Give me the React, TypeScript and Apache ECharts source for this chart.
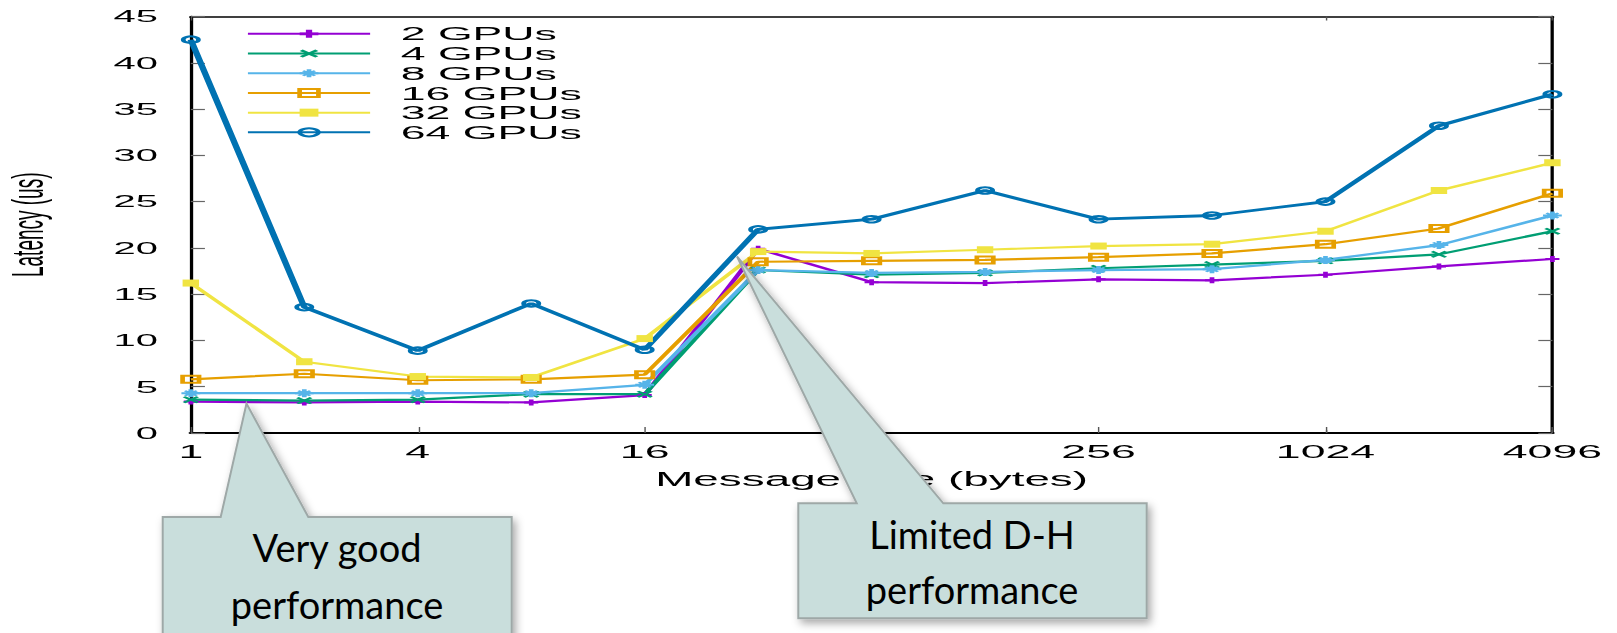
import { useEffect, useRef } from "react";
import * as echarts from "echarts";

// Message sizes (bytes) on a log2 axis
const messageSizes = [1, 2, 4, 8, 16, 32, 64, 128, 256, 512, 1024, 2048, 4096];

// Latency in microseconds per GPU count
const gpus2 = [3.4, 3.3, 3.4, 3.3, 4.1, 19.9, 16.3, 16.2, 16.6, 16.5, 17.1, 18.0, 18.8];
const gpus4 = [3.6, 3.5, 3.6, 4.2, 4.2, 17.6, 17.1, 17.3, 17.8, 18.2, 18.6, 19.3, 21.8];
const gpus8 = [4.3, 4.3, 4.3, 4.3, 5.2, 17.6, 17.3, 17.4, 17.6, 17.7, 18.7, 20.3, 23.5];
const gpus16 = [5.8, 6.4, 5.7, 5.8, 6.3, 18.5, 18.6, 18.7, 19.0, 19.4, 20.4, 22.1, 25.9];
const gpus32 = [16.2, 7.7, 6.1, 6.0, 10.2, 19.6, 19.4, 19.8, 20.2, 20.4, 21.8, 26.2, 29.2];
const gpus64 = [42.5, 13.6, 8.9, 14.0, 9.0, 22.0, 23.1, 26.2, 23.1, 23.5, 25.0, 33.2, 36.6];

const seriesNames = ["2 GPUs", "4 GPUs", "8 GPUs", "16 GPUs", "32 GPUs", "64 GPUs"];
const seriesValues = [gpus2, gpus4, gpus8, gpus16, gpus32, gpus64];

const yMin = 0;
const yMax = 45;
const yStep = 5;
const xTitle = "Message size (bytes)";
const yTitle = "Latency (us)";

const noteGood = ["Very good", "performance"];
const noteLimited = ["Limited D-H", "performance"];

// Layout (the plot is drawn narrow and widened horizontally)
const PAGE_W = 1617;
const PAGE_H = 633;
const STRETCH = 2.35;
const PLOT_W = Math.round(PAGE_W / STRETCH);
const AXIS_FONT = "'Liberation Sans', Arial, Helvetica, sans-serif";

const PLUS = "path://M-1,-3H1V-1H3V1H1V3H-1V1H-3V-1H-1Z";
const CROSS = "path://M-3,-2L-2,-3L0,-1L2,-3L3,-2L1,0L3,2L2,3L0,1L-2,3L-3,2L-1,0Z";
const STAR =
  "path://M-1,-4H1V-1H4V1H1V4H-1V1H-4V-1H-1Z M-3,-2L-2,-3L0,-1L2,-3L3,-2L1,0L3,2L2,3L0,1L-2,3L-3,2L-1,0Z";

const seriesStyles = [
  { color: "#9400d3", symbol: PLUS, size: 6, hollow: false, width: 2.2 },
  { color: "#009e73", symbol: CROSS, size: 7, hollow: false, width: 2.2 },
  { color: "#56b4e9", symbol: STAR, size: 8, hollow: false, width: 2.2 },
  { color: "#e69f00", symbol: "rect", size: 7, hollow: true, width: 2.2 },
  { color: "#f0e442", symbol: "rect", size: 7, hollow: false, width: 2.2 },
  { color: "#0072b2", symbol: "circle", size: 6.5, hollow: true, width: 2.8 },
];

function buildPlotOption() {
  const series = seriesNames.map((name, k) => {
    const st = seriesStyles[k];
    return {
      name,
      type: "line",
      xAxisIndex: 0,
      yAxisIndex: 0,
      data: messageSizes.map((s, i) => [s, seriesValues[k][i]]),
      symbol: st.symbol,
      symbolSize: st.size,
      showSymbol: true,
      color: st.color,
      lineStyle: { color: st.color, width: st.width },
      itemStyle: st.hollow
        ? { color: "rgba(0,0,0,0)", borderColor: st.color, borderWidth: 2 }
        : { color: st.color, borderWidth: 0 },
      emphasis: { disabled: true },
    };
  });

  const frameX = {
    type: "log",
    logBase: 2,
    min: 1,
    max: 4096,
    splitNumber: 12,
    splitLine: { show: false },
    axisLabel: { show: false },
  };
  const frameY = {
    type: "value",
    min: yMin,
    max: yMax,
    interval: yStep,
    splitLine: { show: false },
    axisLine: { show: true, lineStyle: { color: "#000", width: 1.4 } },
    axisTick: { show: true, inside: true, length: 6, lineStyle: { color: "#666", width: 1.2 } },
  };

  return {
    animation: false,
    grid: {
      left: 81.2,
      right: PLOT_W - 660.6,
      top: 16.5,
      bottom: 200,
      containLabel: false,
      outerBoundsMode: "none",
    },
    legend: {
      orient: "vertical",
      left: 104.5,
      top: 24,
      padding: 0,
      itemWidth: 52,
      itemHeight: 10,
      itemGap: 0,
      selectedMode: false,
      data: seriesNames,
      formatter: (name: string) => "{gap|}" + name,
      textStyle: {
        fontSize: 19,
        lineHeight: 19.7,
        fontFamily: AXIS_FONT,
        color: "#000",
        rich: { gap: { width: 8 } },
      },
    },
    xAxis: [
      {
        ...frameX,
        position: "bottom",
        axisLine: { lineStyle: { color: "#000", width: 2 } },
        axisTick: { inside: true, length: 3, lineStyle: { color: "#555", width: 0.6 } },
        name: xTitle,
        nameLocation: "middle",
        nameGap: 36,
        nameTextStyle: { fontSize: 19.5, color: "#000", fontFamily: AXIS_FONT },
      },
      {
        type: "log",
        logBase: 4,
        min: 1,
        max: 4096,
        splitNumber: 6,
        position: "bottom",
        splitLine: { show: false },
        axisLine: { show: false },
        axisTick: { inside: true, length: 6, lineStyle: { color: "#555", width: 0.6 } },
        axisLabel: {
          fontSize: 19,
          color: "#000",
          fontFamily: AXIS_FONT,
          margin: 9,
          formatter: (v: number) => String(Math.round(v)),
        },
      },
      {
        ...frameX,
        position: "top",
        axisLine: { lineStyle: { color: "#000", width: 1.7 } },
        axisTick: { inside: true, length: 4, lineStyle: { color: "#555", width: 0.6 } },
      },
    ],
    yAxis: [
      {
        ...frameY,
        position: "left",
        axisLabel: { fontSize: 17, color: "#000", fontFamily: AXIS_FONT, margin: 14 },
        name: yTitle,
        nameLocation: "middle",
        nameGap: 60,
        nameTextStyle: { fontSize: 19, color: "#000", fontFamily: AXIS_FONT },
      },
      {
        ...frameY,
        position: "right",
        axisLabel: { show: false },
      },
    ],
    series,
  };
}

const CALLOUT_FILL = "#c9dedc";
const CALLOUT_STROKE = "#9ea8a7";
const NOTE_FONT = "Lato, 'Open Sans', sans-serif";

function callout(points: number[][]) {
  return {
    type: "polygon",
    shape: { points },
    style: {
      fill: CALLOUT_FILL,
      stroke: CALLOUT_STROKE,
      lineWidth: 2,
      shadowBlur: 8,
      shadowOffsetX: 3,
      shadowOffsetY: 4,
      shadowColor: "rgba(0,0,0,0.35)",
    },
  };
}

function noteText(text: string, x: number, y: number) {
  return {
    type: "text",
    x,
    y,
    style: {
      text,
      fontSize: 38,
      fontFamily: NOTE_FONT,
      fill: "#000",
      align: "center",
      verticalAlign: "middle",
    },
  };
}

function buildNotesOption() {
  return {
    animation: false,
    graphic: [
      callout([
        [162.7, 517],
        [220.7, 517],
        [246.5, 403.5],
        [308.3, 517],
        [511.7, 517],
        [511.7, 660],
        [162.7, 660],
      ]),
      noteText(noteGood[0], 337, 547),
      noteText(noteGood[1], 337, 604),
      callout([
        [798.3, 503.3],
        [856.7, 503.3],
        [737, 256.5],
        [943.3, 503.3],
        [1146.7, 503.3],
        [1146.7, 618.3],
        [798.3, 618.3],
      ]),
      noteText(noteLimited[0], 972, 534),
      noteText(noteLimited[1], 972, 589),
    ],
  };
}

export default function App() {
  const plotRef = useRef<HTMLDivElement>(null);
  const notesRef = useRef<HTMLDivElement>(null);

  useEffect(() => {
    if (!plotRef.current || !notesRef.current) return;
    const plot = echarts.init(plotRef.current, null, { renderer: "svg" });
    plot.setOption(buildPlotOption() as any);
    const notes = echarts.init(notesRef.current, null, { renderer: "svg" });
    notes.setOption(buildNotesOption() as any);
    return () => {
      plot.dispose();
      notes.dispose();
    };
  }, []);

  return (
    <div
      style={{
        position: "absolute",
        left: 0,
        top: 0,
        width: PAGE_W,
        height: PAGE_H,
        overflow: "hidden",
        background: "#fff",
      }}
    >
      <div
        ref={plotRef}
        style={{
          position: "absolute",
          left: 0,
          top: 0,
          width: PLOT_W,
          height: PAGE_H,
          transform: `scaleX(${STRETCH})`,
          transformOrigin: "0 0",
        }}
      />
      <div
        ref={notesRef}
        style={{
          position: "absolute",
          left: 0,
          top: 0,
          width: PAGE_W,
          height: PAGE_H,
          pointerEvents: "none",
        }}
      />
    </div>
  );
}
